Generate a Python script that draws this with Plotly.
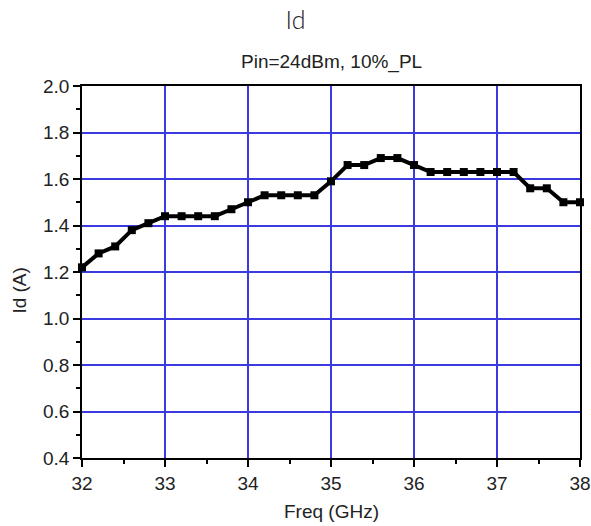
import plotly.graph_objects as go

freq = [32.0, 32.2, 32.4, 32.6, 32.8, 33.0, 33.2, 33.4, 33.6, 33.8, 34.0,
        34.2, 34.4, 34.6, 34.8, 35.0, 35.2, 35.4, 35.6, 35.8, 36.0,
        36.2, 36.4, 36.6, 36.8, 37.0, 37.2, 37.4, 37.6, 37.8, 38.0]
id_a = [1.22, 1.28, 1.31, 1.38, 1.41, 1.44, 1.44, 1.44, 1.44, 1.47, 1.50,
        1.53, 1.53, 1.53, 1.53, 1.59, 1.66, 1.66, 1.69, 1.69, 1.66,
        1.63, 1.63, 1.63, 1.63, 1.63, 1.63, 1.56, 1.56, 1.50, 1.50]

title_text = "Id"
subtitle_text = "Pin=24dBm, 10%_PL"
x_title = "Freq (GHz)"
y_title = "Id (A)"

FONT = "Liberation Sans, Arial, sans-serif"
TXT = "#222"

fig = go.Figure()
fig.add_trace(go.Scatter(
    x=freq, y=id_a, mode="lines+markers",
    line=dict(color="black", width=4),
    marker=dict(symbol="square", size=8, color="black"),
    cliponaxis=False,
))

axis_common = dict(
    showline=True, linecolor="black", linewidth=1.5, mirror=True,
    ticks="outside", ticklen=7, tickwidth=1.5, tickcolor="black",
    showgrid=True, gridcolor="#3a3ae0", gridwidth=1.5,
    zeroline=False, automargin=False,
    tickfont=dict(family=FONT, size=19, color=TXT),
)

fig.update_layout(
    width=591, height=526,
    margin=dict(l=82, r=11, t=86, b=68),
    paper_bgcolor="white", plot_bgcolor="white",
    showlegend=False,
    title=dict(text=title_text, x=0.5, xanchor="center", y=0.962, yanchor="middle",
               automargin=False,
               font=dict(family="Lato, sans-serif", size=25, color=TXT, weight=300)),
    annotations=[
        dict(text=subtitle_text, xref="paper", yref="paper", x=0.5, y=1.0,
             yshift=24, xanchor="center", yanchor="middle", showarrow=False,
             font=dict(family=FONT, size=19, color=TXT)),
        dict(text=x_title, xref="paper", yref="paper", x=0.5, y=-0.145,
             xanchor="center", yanchor="middle", showarrow=False,
             font=dict(family=FONT, size=19, color=TXT)),
        dict(text=y_title, xref="paper", yref="paper", x=-0.1245, y=0.45,
             xanchor="center", yanchor="middle", showarrow=False, textangle=-90,
             font=dict(family=FONT, size=19, color=TXT)),
    ],
    xaxis=dict(range=[32, 38], dtick=1, tick0=32,
               minor=dict(ticks="outside", ticklen=4, dtick=0.5, tickcolor="black", showgrid=False),
               **axis_common),
    yaxis=dict(range=[0.4, 2.0], dtick=0.2, tick0=0.4, tickformat=".1f",
               minor=dict(ticks="outside", ticklen=4, dtick=0.1, tickcolor="black", showgrid=False),
               **axis_common),
)

fig.write_html("out.html", config={"displayModeBar": False},
               post_script="document.body.style.margin='0';document.body.style.overflow='hidden';")
